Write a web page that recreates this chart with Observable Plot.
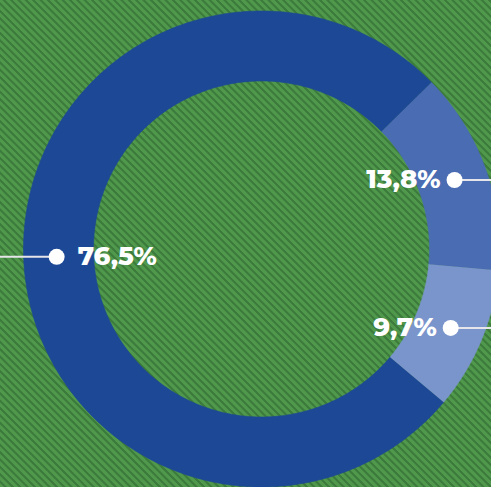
<!DOCTYPE html>
<html>
<head>
<meta charset="utf-8">
<script src="https://cdn.jsdelivr.net/npm/d3@7"></script>
<script src="https://cdn.jsdelivr.net/npm/@observablehq/plot@0.6"></script>
<style>
  html, body { margin: 0; padding: 0; background: #4a9148; }
  #chart {
    width: 491px; height: 487px; overflow: hidden;
    background-color: #4a9148;
    background-image: repeating-linear-gradient(45deg, #4f984c 0px, #4f984c 2.4px, #3c7b3b 3.2px, #3c7b3b 4.6px, #4f984c 5.2px);
  }
  #chart svg { display: block; }
</style>
</head>
<body>
<div id="chart"></div>
<script>
// Data (clockwise from the upper-right)
const categories = ["b", "c", "a"];
const values = [13.8, 9.7, 76.5];
const labels = ["13,8%", "9,7%", "76,5%"];

// Layout / style
const W = 491, H = 487;
const cx = 261, cy = 248.5, rOuter = 238, rInner = 168, rDot = 205;
const startDeg = 45.5;
const colors = ["#4a6cb2", "#7a95cb", "#1c4895"];

const pie = d3.pie().sort(null).value(d => d.value)
  .startAngle(startDeg * Math.PI / 180)
  .endAngle(startDeg * Math.PI / 180 + 2 * Math.PI);
const slices = pie(categories.map((c, i) => ({cat: c, value: values[i], label: labels[i]})));

const pt = (r, a) => ({x: cx + r * Math.sin(a), y: cy - r * Math.cos(a)});

const ring = [];
slices.forEach(s => {
  const n = Math.max(8, Math.ceil((s.endAngle - s.startAngle) * 60));
  for (let k = 0; k <= n; k++) {
    const a = s.startAngle + (s.endAngle - s.startAngle) * k / n;
    ring.push({...pt(rOuter, a), cat: s.data.cat});
  }
  for (let k = n; k >= 0; k--) {
    const a = s.startAngle + (s.endAngle - s.startAngle) * k / n;
    ring.push({...pt(rInner, a), cat: s.data.cat});
  }
});

const anchors = slices.map(s => {
  const mid = (s.startAngle + s.endAngle) / 2;
  const p = pt(rDot, mid);
  const right = p.x > cx;
  return {...p, label: s.data.label, right, x1: right ? p.x : 0, x2: right ? W : p.x};
});

const font = "Montserrat, Inter, 'Open Sans', sans-serif";
const plot = Plot.plot({
  width: W, height: H,
  margin: 0,
  x: {domain: [0, W], range: [0, W], axis: null},
  y: {domain: [0, H], range: [0, H], axis: null},
  color: {domain: categories, range: colors},
  style: {overflow: "hidden"},
  marks: [
    Plot.line(ring, {x: "x", y: "y", z: "cat", fill: "cat", stroke: "cat", strokeWidth: 0.6, curve: "linear"}),
    Plot.ruleY(anchors, {y: "y", x1: "x1", x2: "x2", stroke: "#e6e6ea", strokeWidth: 2}),
    Plot.dot(anchors, {x: "x", y: "y", r: 8, fill: "white", stroke: null}),
    Plot.text(anchors.filter(d => d.right), {x: "x", y: "y", text: "label", dx: -14, textAnchor: "end", lineAnchor: "middle",
      fill: "white", fontSize: 26, fontWeight: 800, fontFamily: font}),
    Plot.text(anchors.filter(d => !d.right), {x: "x", y: "y", text: "label", dx: 21, textAnchor: "start", lineAnchor: "middle",
      fill: "white", fontSize: 26, fontWeight: 800, fontFamily: font})
  ]
});
plot.style.background = "transparent";
document.getElementById("chart").appendChild(plot);
</script>
</body>
</html>
